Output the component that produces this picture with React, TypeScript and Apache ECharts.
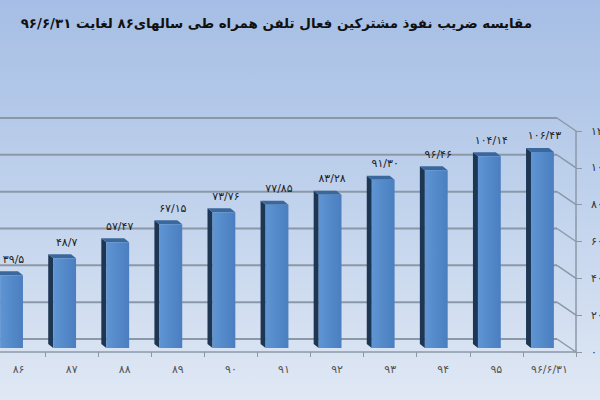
import React, { useEffect, useRef } from 'react';
import * as echarts from 'echarts';

const categories = ['۸۶', '۸۷', '۸۸', '۸۹', '۹۰', '۹۱', '۹۲', '۹۳', '۹۴', '۹۵', '۹۶/۶/۳۱'];
const penetration = [39.5, 48.7, 57.47, 67.15, 73.76, 77.85, 83.28, 91.3, 96.46, 104.14, 106.43];
const valueLabels = ['۳۹/۵', '۴۸/۷', '۵۷/۴۷', '۶۷/۱۵', '۷۳/۷۶', '۷۷/۸۵', '۸۳/۲۸', '۹۱/۳۰', '۹۶/۴۶', '۱۰۴/۱۴', '۱۰۶/۴۳'];
const yTicks = [0, 20, 40, 60, 80, 100, 120];

const TITLE = 'مقایسه ضریب نفوذ مشترکین فعال تلفن همراه طی سالهای۸۶ لغایت ۹۶/۶/۳۱';
const FONT = 'DejaVu Sans';

// 3d offsets (px) from the front plane
const WALL_DX = -19;
const WALL_DY = -13;
const BAR_DX = -7;
const BAR_DY = -4;
const DEPTH_DX = -5;
const DEPTH_DY = -4;

const toFa = (s: string | number) =>
  String(s).replace(/[0-9]/g, (d) => '۰۱۲۳۴۵۶۷۸۹'[Number(d)]);

export default function App() {
  const chartRef = useRef<HTMLDivElement>(null);

  useEffect(() => {
    if (!chartRef.current) return;
    const chart = echarts.init(chartRef.current, undefined, { renderer: 'svg' });

    const gridColor = '#8b98a8';

    const option: echarts.EChartsOption = {
      animation: false,
      backgroundColor: new echarts.graphic.LinearGradient(0, 0, 0, 1, [
        { offset: 0, color: '#a6bee5' },
        { offset: 0.5, color: '#c0d2ec' },
        { offset: 1, color: '#e0e8f4' },
      ]),
      title: {
        text: TITLE,
        right: 63,
        top: 12,
        textStyle: { fontFamily: FONT, fontWeight: 'bold', fontSize: 13.4, color: '#111' },
      },
      grid: { left: -8, right: 24, top: 131, bottom: 48, outerBoundsMode: 'none' } as any,
      xAxis: {
        type: 'category',
        data: categories,
        axisLine: { show: true, lineStyle: { color: gridColor, width: 1.5 } },
        axisTick: { show: true, length: 5, lineStyle: { color: gridColor } },
        axisLabel: { color: '#555', fontFamily: FONT, fontSize: 11, margin: 12 },
      },
      yAxis: {
        type: 'value',
        position: 'right',
        min: 0,
        max: 120,
        interval: 20,
        axisLine: { show: true, lineStyle: { color: gridColor, width: 1.5 } },
        axisTick: { show: true, length: 6, lineStyle: { color: gridColor } },
        axisLabel: {
          color: '#333',
          fontFamily: FONT,
          fontSize: 11,
          margin: 15,
          formatter: (v: number) => toFa(v),
        },
        splitLine: { show: false },
      },
      series: [
        {
          type: 'custom',
          silent: true,
          z: 1,
          data: yTicks.map((v) => [0, v]),
          renderItem: (params: any, api: any) => {
            const cs = params.coordSys;
            const y = api.coord([0, api.value(1)])[1];
            const right = cs.x + cs.width;
            return {
              type: 'group',
              children: [
                {
                  type: 'line',
                  shape: { x1: cs.x + WALL_DX, y1: y + WALL_DY, x2: right + WALL_DX, y2: y + WALL_DY },
                  style: { stroke: gridColor, lineWidth: 2 },
                },
                {
                  type: 'line',
                  shape: { x1: right + WALL_DX, y1: y + WALL_DY, x2: right, y2: y },
                  style: { stroke: gridColor, lineWidth: 1.5 },
                },
              ],
            };
          },
        },
        {
          type: 'custom',
          z: 2,
          data: penetration.map((v, i) => [i, v]),
          renderItem: (params: any, api: any) => {
            const idx = api.value(0);
            const base = api.coord([idx, 0]);
            const top = api.coord([idx, api.value(1)]);
            const band = api.size([1, 0])[0];
            const w = band * 0.43;
            const x0 = base[0] + BAR_DX - w / 2;
            const x1 = x0 + w;
            const yb = base[1] + BAR_DY;
            const yt = top[1] + BAR_DY;
            const bx0 = x0 + DEPTH_DX;
            const bx1 = x1 + DEPTH_DX;
            const byt = yt + DEPTH_DY;
            const byb = yb + DEPTH_DY;
            return {
              type: 'group',
              children: [
                {
                  type: 'polygon',
                  shape: { points: [[x0, yt], [bx0, byt], [bx0, byb], [x0, yb]] },
                  style: { fill: '#1d3654' },
                },
                {
                  type: 'polygon',
                  shape: { points: [[x0, yt], [x1, yt], [bx1, byt], [bx0, byt]] },
                  style: { fill: '#3a679c' },
                },
                {
                  type: 'rect',
                  shape: { x: x0, y: yt, width: w, height: yb - yt },
                  style: {
                    fill: new echarts.graphic.LinearGradient(0, 0, 1, 0, [
                      { offset: 0, color: '#5f95d3' },
                      { offset: 1, color: '#4a7ec0' },
                    ]),
                  },
                },
                {
                  type: 'text',
                  x: x0 + w / 2 + 2,
                  y: yt - 16,
                  style: {
                    text: valueLabels[params.dataIndex],
                    fontFamily: FONT,
                    fontSize: 11,
                    fill: '#222',
                    align: 'center',
                    verticalAlign: 'middle',
                  },
                },
              ],
            };
          },
        },
      ],
    };

    chart.setOption(option);
    return () => chart.dispose();
  }, []);

  return (
    <div
      ref={chartRef}
      style={{ position: 'fixed', left: 0, top: 0, width: 600, height: 400 }}
    />
  );
}
